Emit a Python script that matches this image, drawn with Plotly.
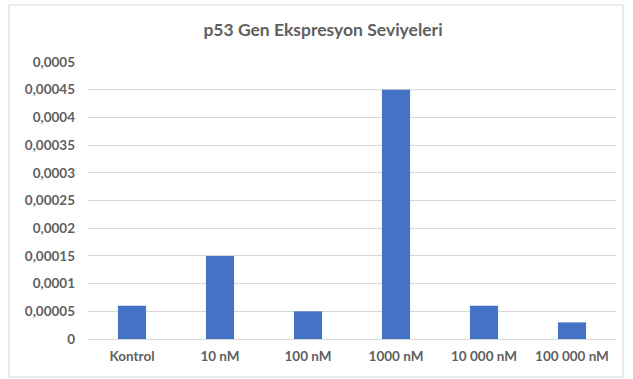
import plotly.graph_objects as go

categories = ["Kontrol", "10 nM", "100 nM", "1000 nM", "10 000 nM", "100 000 nM"]
values = [0.00006, 0.00015, 0.00005, 0.00045, 0.00006, 0.00003]
tick_vals = [0, 0.00005, 0.0001, 0.00015, 0.0002, 0.00025, 0.0003, 0.00035, 0.0004, 0.00045, 0.0005]
tick_text = ["0", "0,00005", "0,0001", "0,00015", "0,0002", "0,00025", "0,0003",
             "0,00035", "0,0004", "0,00045", "0,0005"]

W, H = 633, 379
ml, mr, mt, mb = 88, 17, 62, 40
pw, ph = W - ml - mr, H - mt - mb

fig = go.Figure(go.Bar(x=categories, y=values, marker_color="#4472C4",
                       marker_line_width=0))

font = dict(family="Lato, Open Sans, sans-serif", color="#5f5f5f", weight="bold")

# outer chart frame
bx0, bx1, by0, by1 = 9, 623, 5, 377
fig.add_shape(type="rect", xref="paper", yref="paper",
              x0=(bx0 - ml) / pw, x1=(bx1 - ml) / pw,
              y0=(H - by1 - mb) / ph, y1=(H - by0 - mb) / ph,
              line=dict(color="#d9d9d9", width=1.2), layer="below")

fig.update_layout(
    width=W, height=H,
    margin=dict(l=ml, r=mr, t=mt, b=mb),
    paper_bgcolor="white", plot_bgcolor="white",
    bargap=0.68,
    showlegend=False,
    title=dict(text="p53 Gen Ekspresyon Seviyeleri", x=323 / W, xanchor="center",
               y=1 - 30 / H, yanchor="middle",
               font=dict(size=17.5, **font)),
    xaxis=dict(showgrid=False, showline=False, ticks="",
               tickfont=dict(size=13.5, **font), ticklabelstandoff=7),
    yaxis=dict(range=[0, 0.0005], tickvals=tick_vals, ticktext=tick_text,
               showgrid=True, gridcolor="#d9d9d9", gridwidth=1,
               zeroline=True, zerolinecolor="#d9d9d9", zerolinewidth=1,
               ticks="", ticklabelstandoff=12,
               tickfont=dict(size=13.5, **font)),
)

fig.write_html("out.html")
